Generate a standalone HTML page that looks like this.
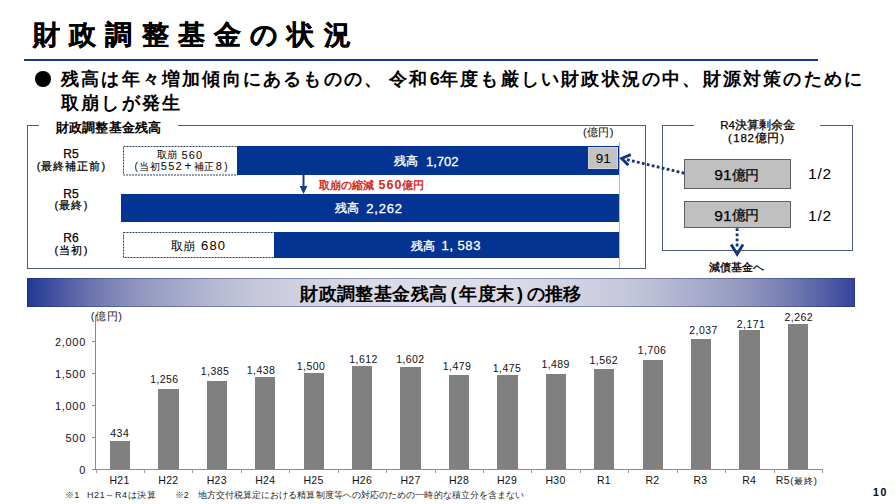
<!DOCTYPE html>
<html lang="ja">
<head>
<meta charset="utf-8">
<title>財政調整基金の状況</title>
<style>
html,body{margin:0;padding:0;}
body{width:896px;height:504px;position:relative;overflow:hidden;background:#fff;
  font-family:"Liberation Sans",sans-serif;color:#000;}
.a{position:absolute;white-space:nowrap;line-height:1;}
.c{text-align:center;}
.title{left:33px;top:21.5px;font-size:27px;font-weight:bold;letter-spacing:9.2px;-webkit-text-stroke:0.3px #000;}
.rule{left:24px;top:59px;width:794px;height:2px;background:#173a8e;}
.lead{font-size:18px;font-weight:bold;letter-spacing:2.2px;}
.box{border:1px solid #4d5d78;box-sizing:border-box;}
.legend{background:#fff;}
.blue{background:#033492;}
.dash{border:1px dashed #1f3864;box-sizing:border-box;background:#fff;}
.w{color:#fff;-webkit-text-stroke:0.3px #fff;}
.m{-webkit-text-stroke:0.25px #000;}
.gbox{background:#c0c0c0;border:1px solid #5f5f5f;box-sizing:border-box;}
.lab{font-size:10.5px;letter-spacing:0.42px;color:#111;width:48px;text-align:center;}
.cat{font-size:10.5px;letter-spacing:0.3px;color:#111;width:60px;text-align:center;}
.yl{font-size:11px;letter-spacing:0.7px;color:#111;width:40px;text-align:right;left:46px;}
.bar{background:#808080;width:20.3px;}
.tick{background:#8a8a8a;}
.fn{top:490.5px;font-size:9px;color:#262626;}
</style>
</head>
<body>

<!-- Title -->
<div class="a title">財政調整基金の状況</div>
<div class="a rule"></div>

<!-- Lead text -->
<div class="a" style="left:35px;top:71px;width:15.5px;height:15.5px;border-radius:50%;background:#000;"></div>
<div class="a lead" style="left:61px;top:70px;">残高は年々増加傾向にあるものの、<span style="letter-spacing:0"> </span>令和<span style="letter-spacing:0.3px">6</span>年度も厳しい財政状況の中、財源対策のために</div>
<div class="a lead" style="left:61px;top:94px;">取崩しが発生</div>

<!-- Left box -->
<div class="a box" style="left:27px;top:125px;width:619px;height:144px;"></div>
<div class="a legend" style="left:39px;top:120px;width:139px;height:12px;"></div>
<div class="a" style="left:55.5px;top:121px;font-size:13px;font-weight:bold;letter-spacing:0.25px;">財政調整基金残高</div>
<div class="a" style="left:583px;top:127px;font-size:11px;letter-spacing:0.4px;">(億円)</div>

<!-- row 1 -->
<div class="a c m" style="left:31px;top:148px;width:80px;font-size:12px;">R5</div>
<div class="a c m" style="left:31.5px;top:161px;width:80px;font-size:11px;letter-spacing:1px;">(最終補正前)</div>
<svg class="a" style="left:122px;top:145px;" width="118" height="32"><rect x="1.5" y="1.5" width="114" height="28.5" fill="#fff" stroke="#2b3f68" stroke-width="1" stroke-dasharray="2 1"/></svg>
<div class="a" style="left:157px;top:150px;font-size:10px;">取崩</div>
<div class="a d" style="left:181.5px;top:149.5px;font-size:11px;letter-spacing:1.1px;">560</div>
<div class="a" style="left:134.5px;top:160px;font-size:10px;letter-spacing:0.4px;">(<span style="margin-left:1.2px">当初</span><span style="font-size:11px;letter-spacing:1.3px;margin-left:0.5px;">552</span><span style="font-size:12px;margin:0 2px 0 1.5px;">+</span>補正<span style="font-size:11px;margin-left:1px;">8</span><span style="margin-left:2px">)</span></div>
<div class="a blue" style="left:237px;top:145.5px;width:382.4px;height:29.6px;"></div>
<div class="a w" style="left:394.3px;top:155.2px;font-size:12px;">残高</div>
<div class="a w" style="left:426px;top:154.6px;font-size:13px;">1,702</div>
<div class="a" style="left:588px;top:147px;width:30px;height:22.4px;background:#c3c3c3;box-sizing:border-box;border:1px solid #d4d4d4;"></div>
<div class="a c" style="left:588px;top:152px;width:30.4px;font-size:13.5px;">91</div>

<!-- arrow + red note -->
<svg class="a" style="left:296px;top:175px;" width="16" height="20" viewBox="0 0 16 20">
  <line x1="7.5" y1="0" x2="7.5" y2="13" stroke="#173a8e" stroke-width="2"/>
  <path d="M3.6 11 L11.4 11 L7.5 19 Z" fill="#173a8e"/>
</svg>
<div class="a" style="left:318.5px;top:178.5px;font-size:11px;font-weight:bold;color:#d42a20;">取崩の縮減<span style="font-size:12.5px;letter-spacing:1px;margin-left:5px;">560</span>億円</div>

<!-- row 2 -->
<div class="a c m" style="left:31px;top:188px;width:80px;font-size:12px;">R5</div>
<div class="a c m" style="left:31.5px;top:200px;width:80px;font-size:11px;letter-spacing:1.2px;">(最終)</div>
<div class="a blue" style="left:121px;top:194px;width:498px;height:28px;"></div>
<div class="a w" style="left:335.3px;top:202.3px;font-size:12px;">残高</div>
<div class="a w" style="left:366.3px;top:201.7px;font-size:13px;letter-spacing:0.8px;">2,262</div>

<!-- row 3 -->
<div class="a c m" style="left:31px;top:232px;width:80px;font-size:12px;">R6</div>
<div class="a c m" style="left:31.5px;top:245px;width:80px;font-size:11px;letter-spacing:1.2px;">(当初)</div>
<svg class="a" style="left:122px;top:231px;" width="155" height="29"><rect x="1.5" y="1.5" width="151" height="25" fill="#fff" stroke="#2b3f68" stroke-width="1" stroke-dasharray="2 1"/></svg>
<div class="a" style="left:170.6px;top:239.6px;font-size:12px;">取崩</div>
<div class="a" style="left:201px;top:238.8px;font-size:13px;letter-spacing:1.2px;">680</div>
<div class="a blue" style="left:274px;top:232px;width:345px;height:25.5px;"></div>
<div class="a w" style="left:410.9px;top:239.5px;font-size:12px;">残高</div>
<div class="a w" style="left:441.6px;top:238.8px;font-size:13px;letter-spacing:0.7px;">1,<span style="margin-left:3.6px">583</span></div>

<!-- thin vertical line -->
<div class="a" style="left:619px;top:142px;width:1px;height:126px;background:#a9b9d9;"></div>

<!-- Right box -->
<div class="a box" style="left:662px;top:125px;width:191px;height:126px;"></div>
<div class="a legend" style="left:694px;top:118px;width:126px;height:28px;"></div>
<div class="a c m" style="left:694.5px;top:119.5px;width:126px;font-size:11.5px;">R4決算剰余金</div>
<div class="a c m" style="left:693px;top:132.5px;width:126px;font-size:11.5px;"><span style="margin-right:1.5px">(</span><span style="letter-spacing:0.7px">182</span>億円<span style="margin-left:1.5px">)</span></div>
<div class="a gbox" style="left:684px;top:159px;width:107px;height:29.5px;"></div>
<div class="a m" style="left:714.3px;top:167.4px;font-size:14px;"><span style="font-size:15.5px">91</span><span style="letter-spacing:-0.6px;position:relative;top:-0.7px;">億円</span></div>
<div class="a" style="left:808px;top:165.5px;font-size:15.5px;letter-spacing:0.8px;">1/2</div>
<div class="a gbox" style="left:684px;top:201px;width:107px;height:26.5px;"></div>
<div class="a m" style="left:714.3px;top:207.7px;font-size:14px;"><span style="font-size:15.5px">91</span><span style="letter-spacing:-0.6px;position:relative;top:-0.7px;">億円</span></div>
<div class="a" style="left:808px;top:207.5px;font-size:15.5px;letter-spacing:0.8px;">1/2</div>
<div class="a" style="left:709px;top:262px;font-size:11px;font-weight:bold;color:#1a1a1a;">減債基金へ</div>

<!-- dotted arrows -->
<svg class="a" style="left:600px;top:140px;" width="200" height="130" viewBox="600 140 200 130">
  <line x1="684.3" y1="173.2" x2="625" y2="159.2" stroke="#17367a" stroke-width="2.8" stroke-dasharray="2.8 2.3"/>
  <path d="M630.8 154.6 L621.6 158.4 L628.4 165.2" fill="none" stroke="#17367a" stroke-width="2.9" stroke-linejoin="miter"/>
  <line x1="737.1" y1="228.3" x2="737.1" y2="248.5" stroke="#17367a" stroke-width="2.8" stroke-dasharray="2.8 2.3"/>
  <path d="M731.2 244.6 L737.1 254.2 L743 244.6" fill="none" stroke="#17367a" stroke-width="2.9" stroke-linejoin="miter"/>
</svg>

<!-- Banner -->
<div class="a" style="left:27px;top:278px;width:828px;height:29px;background:linear-gradient(90deg,rgb(32,56,147) 0.0%,rgb(74,88,162) 4.0%,rgb(106,115,173) 7.5%,rgb(131,138,184) 11.2%,rgb(144,150,190) 13.5%,rgb(165,169,201) 18.5%,rgb(184,187,211) 23.5%,rgb(198,200,219) 28.0%,rgb(208,209,224) 33.0%,rgb(217,218,229) 40.0%,rgb(222,222,232) 50.0%,rgb(217,218,229) 60.0%,rgb(208,209,224) 67.0%,rgb(198,200,219) 72.0%,rgb(184,187,211) 76.5%,rgb(166,170,202) 81.5%,rgb(146,152,191) 86.5%,rgb(134,141,186) 88.8%,rgb(112,121,176) 92.5%,rgb(86,98,167) 96.0%,rgb(50,67,153) 100.0%);box-shadow:inset 0 0 0 1px rgba(26,38,110,0.4);"></div>
<div class="a c" style="left:27px;top:285px;width:828px;font-size:18px;font-weight:bold;letter-spacing:0.4px;">財政調整基金残高<span style="margin:0 2.5px 0 3px">(</span>年度末<span style="margin:0 3px 0 2.5px">)</span>の推移</div>

<!-- Chart -->
<div class="a" style="left:90.8px;top:311px;font-size:11px;letter-spacing:0.6px;color:#1a1a1a;">(億円)</div>
<div class="a tick" style="left:95px;top:317px;width:1px;height:153px;"></div>
<div class="a tick" style="left:95px;top:469px;width:727px;height:1px;"></div>
<!-- y ticks -->
<div class="a tick" style="left:92px;top:341px;width:3px;height:1px;"></div>
<div class="a tick" style="left:92px;top:373px;width:3px;height:1px;"></div>
<div class="a tick" style="left:92px;top:405px;width:3px;height:1px;"></div>
<div class="a tick" style="left:92px;top:437px;width:3px;height:1px;"></div>
<div class="a tick" style="left:92px;top:469px;width:3px;height:1px;"></div>
<div class="a yl" style="top:337px;">2,000</div>
<div class="a yl" style="top:369px;">1,500</div>
<div class="a yl" style="top:401px;">1,000</div>
<div class="a yl" style="top:433px;">500</div>
<div class="a yl" style="top:465px;">0</div>

<!--CHART-START-->
<div class="a bar" style="left:109.9px;top:441.47px;height:27.78px;"></div>
<div class="a lab" style="left:95.75px;top:428.05px;">434</div>
<div class="a cat" style="left:89.50px;top:475px;">H21</div>
<div class="a bar" style="left:158.32px;top:388.87px;height:80.38px;"></div>
<div class="a lab" style="left:140.40px;top:373.80px;">1,256</div>
<div class="a cat" style="left:138.40px;top:475px;">H22</div>
<div class="a bar" style="left:206.74px;top:380.61px;height:88.64px;"></div>
<div class="a lab" style="left:191.00px;top:365.80px;">1,385</div>
<div class="a cat" style="left:186.80px;top:475px;">H23</div>
<div class="a bar" style="left:255.16px;top:377.22px;height:92.03px;"></div>
<div class="a lab" style="left:237.00px;top:365.05px;">1,438</div>
<div class="a cat" style="left:235.25px;top:475px;">H24</div>
<div class="a bar" style="left:303.58px;top:373.25px;height:96.00px;"></div>
<div class="a lab" style="left:287.00px;top:360.80px;">1,500</div>
<div class="a cat" style="left:283.50px;top:475px;">H25</div>
<div class="a bar" style="left:352.0px;top:366.08px;height:103.17px;"></div>
<div class="a lab" style="left:339.50px;top:353.80px;">1,612</div>
<div class="a cat" style="left:332.00px;top:475px;">H26</div>
<div class="a bar" style="left:400.42px;top:366.72px;height:102.53px;"></div>
<div class="a lab" style="left:386.40px;top:353.80px;">1,602</div>
<div class="a cat" style="left:380.50px;top:475px;">H27</div>
<div class="a bar" style="left:448.84px;top:374.59px;height:94.66px;"></div>
<div class="a lab" style="left:433.00px;top:361.30px;">1,479</div>
<div class="a cat" style="left:429.00px;top:475px;">H28</div>
<div class="a bar" style="left:497.26px;top:374.85px;height:94.40px;"></div>
<div class="a lab" style="left:483.00px;top:363.30px;">1,475</div>
<div class="a cat" style="left:477.00px;top:475px;">H29</div>
<div class="a bar" style="left:545.68px;top:373.95px;height:95.30px;"></div>
<div class="a lab" style="left:531.60px;top:358.80px;">1,489</div>
<div class="a cat" style="left:525.50px;top:475px;">H30</div>
<div class="a bar" style="left:594.1px;top:369.28px;height:99.97px;"></div>
<div class="a lab" style="left:579.75px;top:355.05px;">1,562</div>
<div class="a cat" style="left:574.00px;top:475px;">R1</div>
<div class="a bar" style="left:642.52px;top:360.07px;height:109.18px;"></div>
<div class="a lab" style="left:628.00px;top:345.05px;">1,706</div>
<div class="a cat" style="left:622.50px;top:475px;">R2</div>
<div class="a bar" style="left:690.94px;top:338.88px;height:130.37px;"></div>
<div class="a lab" style="left:679.50px;top:324.55px;">2,037</div>
<div class="a cat" style="left:670.50px;top:475px;">R3</div>
<div class="a bar" style="left:739.36px;top:330.31px;height:138.94px;"></div>
<div class="a lab" style="left:727.00px;top:318.80px;">2,171</div>
<div class="a cat" style="left:719.25px;top:475px;">R4</div>
<div class="a bar" style="left:787.78px;top:324.48px;height:144.77px;"></div>
<div class="a lab" style="left:774.75px;top:311.80px;">2,262</div>
<div class="a cat" style="left:766.75px;top:475px;">R5<span style="font-size:9.4px;letter-spacing:0.8px;margin-left:0.5px">(最終)</span></div>
<div class="a tick" style="left:95.5px;top:469px;width:1px;height:3.6px;background:#9a9a9a;"></div>
<div class="a tick" style="left:143.9px;top:469px;width:1px;height:3.6px;background:#9a9a9a;"></div>
<div class="a tick" style="left:192.4px;top:469px;width:1px;height:3.6px;background:#9a9a9a;"></div>
<div class="a tick" style="left:240.8px;top:469px;width:1px;height:3.6px;background:#9a9a9a;"></div>
<div class="a tick" style="left:289.2px;top:469px;width:1px;height:3.6px;background:#9a9a9a;"></div>
<div class="a tick" style="left:337.6px;top:469px;width:1px;height:3.6px;background:#9a9a9a;"></div>
<div class="a tick" style="left:386.1px;top:469px;width:1px;height:3.6px;background:#9a9a9a;"></div>
<div class="a tick" style="left:434.5px;top:469px;width:1px;height:3.6px;background:#9a9a9a;"></div>
<div class="a tick" style="left:482.9px;top:469px;width:1px;height:3.6px;background:#9a9a9a;"></div>
<div class="a tick" style="left:531.4px;top:469px;width:1px;height:3.6px;background:#9a9a9a;"></div>
<div class="a tick" style="left:579.8px;top:469px;width:1px;height:3.6px;background:#9a9a9a;"></div>
<div class="a tick" style="left:628.2px;top:469px;width:1px;height:3.6px;background:#9a9a9a;"></div>
<div class="a tick" style="left:676.7px;top:469px;width:1px;height:3.6px;background:#9a9a9a;"></div>
<div class="a tick" style="left:725.1px;top:469px;width:1px;height:3.6px;background:#9a9a9a;"></div>
<div class="a tick" style="left:773.5px;top:469px;width:1px;height:3.6px;background:#9a9a9a;"></div>
<div class="a tick" style="left:822.0px;top:469px;width:1px;height:3.6px;background:#9a9a9a;"></div>
<!--CHART-END-->

<!-- footnote + page number -->
<div class="a fn" style="left:65px;letter-spacing:0.3px;">※1</div>
<div class="a fn" style="left:87px;letter-spacing:0.6px;">H21～R4は決算</div>
<div class="a fn" style="left:174.5px;letter-spacing:0.3px;">※2</div>
<div class="a fn" style="left:197.5px;letter-spacing:0.08px;">地方交付税算定における精算制度等への対応のための一時的な積立分を含まない</div>
<div class="a" style="left:873px;top:487px;font-size:10.5px;font-weight:bold;letter-spacing:1.7px;">10</div>

</body>
</html>
